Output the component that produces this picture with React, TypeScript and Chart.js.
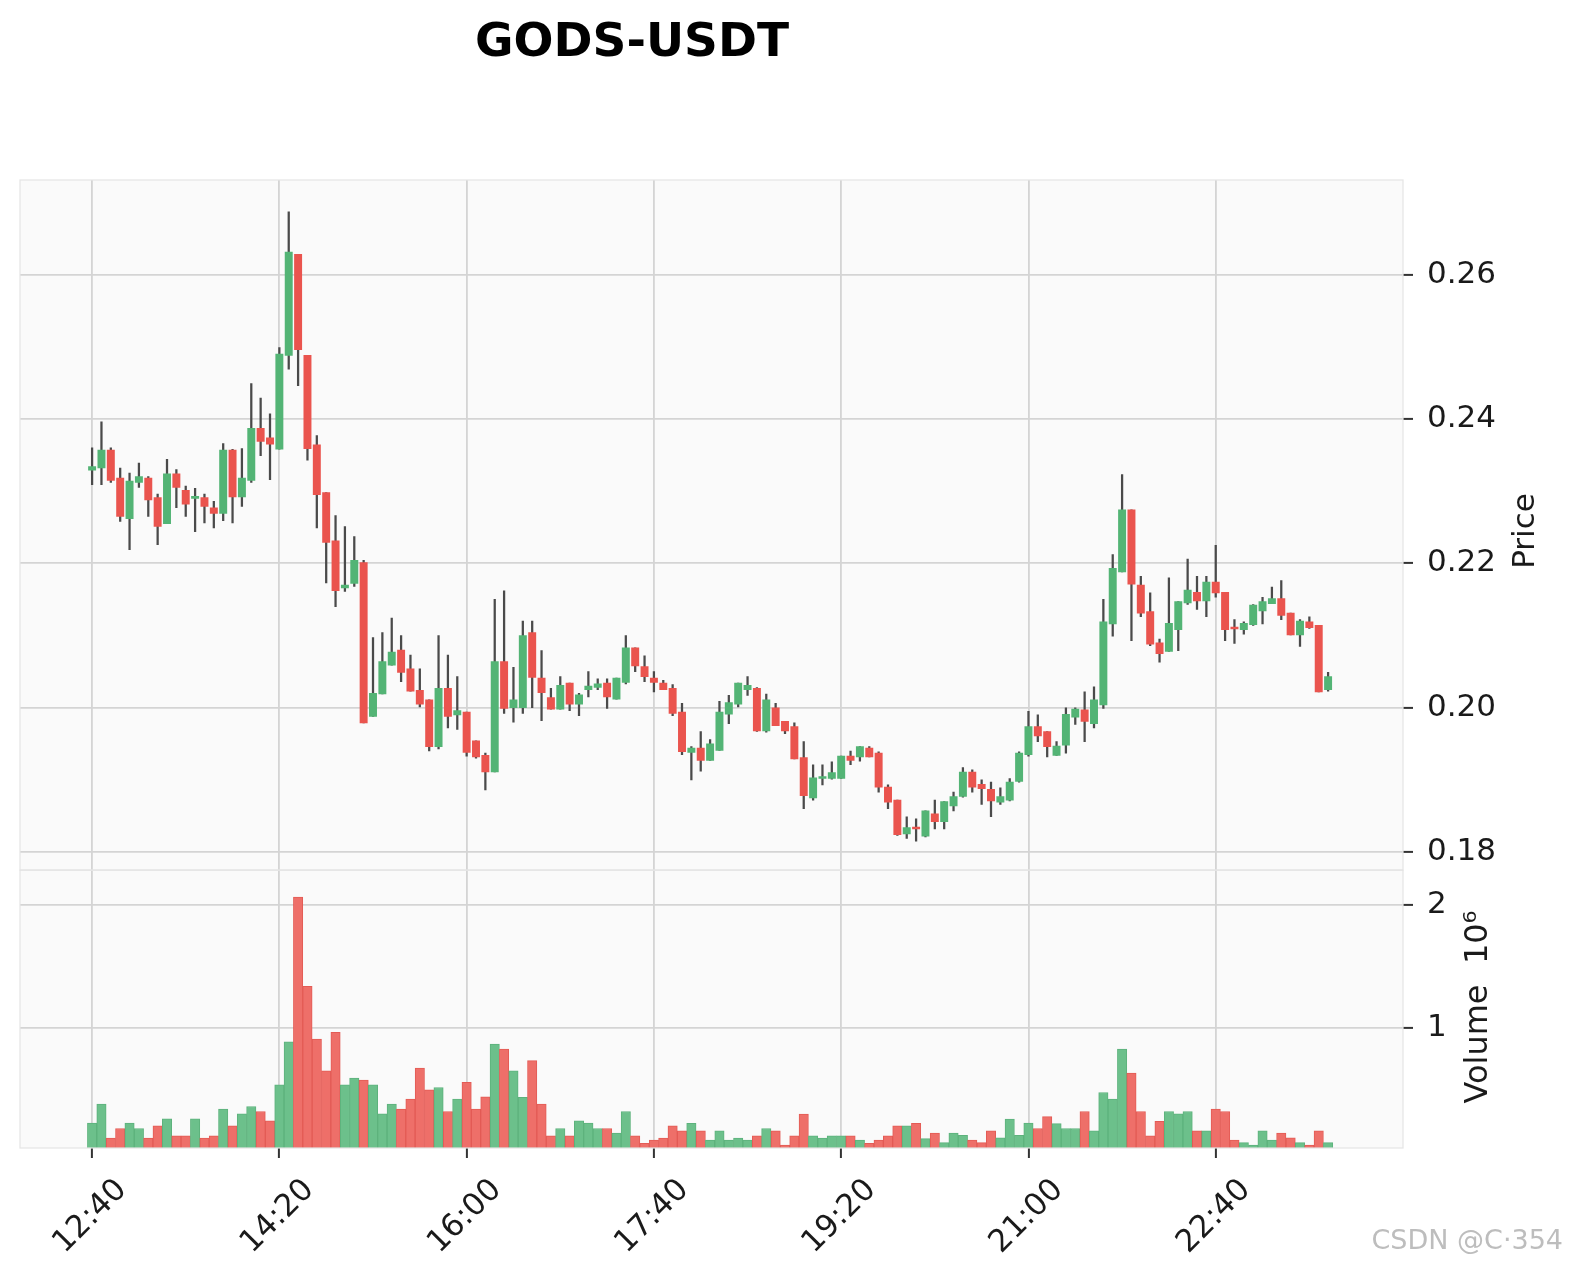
import React, { useEffect, useRef } from "react";
import { Chart, registerables } from "chart.js";

Chart.register(...registerables);

const TITLE = "GODS-USDT";
const PRICE_LABEL = "Price";
const VOLUME_LABEL = "Volume  10\u2076";
const WATERMARK = "CSDN @C\u00b7354";

const opens = [
  0.2329, 0.2332, 0.2357, 0.2318, 0.2262, 0.2312, 0.2318, 0.2291, 0.2255, 0.2324,
  0.2301, 0.2290, 0.2291, 0.2277, 0.2269, 0.2357, 0.2292, 0.2315, 0.2387, 0.2374,
  0.2358, 0.2488, 0.2628, 0.2488, 0.2364, 0.2298, 0.2231, 0.2166, 0.2172, 0.2201,
  0.1988, 0.2019, 0.2059, 0.2080, 0.2054, 0.2024, 0.2011, 0.1946, 0.2027, 0.1990,
  0.1994, 0.1954, 0.1934, 0.1911, 0.2064, 0.2000, 0.2000, 0.2104, 0.2041, 0.2014,
  0.1998, 0.2034, 0.2005, 0.2025, 0.2028, 0.2034, 0.2012, 0.2035, 0.2083, 0.2057,
  0.2041, 0.2034, 0.2027, 0.1994, 0.1938, 0.1944, 0.1927, 0.1941, 0.1991, 0.2005,
  0.2025, 0.2027, 0.1968, 0.2000, 0.1981, 0.1974, 0.1931, 0.1875, 0.1902, 0.1902,
  0.1902, 0.1933, 0.1932, 0.1944, 0.1937, 0.1890, 0.1872, 0.1825, 0.1834, 0.1822,
  0.1853, 0.1842, 0.1864, 0.1877, 0.1911, 0.1894, 0.1887, 0.1869, 0.1872, 0.1898,
  0.1935, 0.1974, 0.1967, 0.1934, 0.1948, 0.1987, 0.1997, 0.1978, 0.2004, 0.2116,
  0.2188, 0.2274, 0.2170, 0.2133, 0.2090, 0.2078, 0.2108, 0.2145, 0.2160, 0.2148,
  0.2174, 0.2160, 0.2110, 0.2108, 0.2115, 0.2134, 0.2144, 0.2151, 0.2131, 0.2101,
  0.2119, 0.2114, 0.2025,
];
const highs = [
  0.2360, 0.2396, 0.2360, 0.2332, 0.2325, 0.2339, 0.2320, 0.2296, 0.2344, 0.2330,
  0.2307, 0.2304, 0.2296, 0.2286, 0.2366, 0.2358, 0.2359, 0.2449, 0.2429, 0.2407,
  0.2499, 0.2687, 0.2628, 0.2488, 0.2377, 0.2298, 0.2266, 0.2251, 0.2237, 0.2204,
  0.2097, 0.2104, 0.2124, 0.2100, 0.2073, 0.2054, 0.2011, 0.2100, 0.2073, 0.2043,
  0.1994, 0.1954, 0.1937, 0.2150, 0.2162, 0.2056, 0.2120, 0.2120, 0.2079, 0.2027,
  0.2043, 0.2034, 0.2020, 0.2050, 0.2040, 0.2040, 0.2041, 0.2100, 0.2083, 0.2072,
  0.2050, 0.2038, 0.2032, 0.2006, 0.1946, 0.1967, 0.1956, 0.2009, 0.2017, 0.2034,
  0.2043, 0.2028, 0.2019, 0.2006, 0.1981, 0.1979, 0.1953, 0.1921, 0.1921, 0.1925,
  0.1933, 0.1940, 0.1946, 0.1946, 0.1939, 0.1893, 0.1872, 0.1849, 0.1846, 0.1857,
  0.1872, 0.1870, 0.1883, 0.1917, 0.1914, 0.1900, 0.1897, 0.1889, 0.1902, 0.1939,
  0.1995, 0.1990, 0.1967, 0.1953, 0.2000, 0.2000, 0.2022, 0.2029, 0.2150, 0.2212,
  0.2323, 0.2274, 0.2182, 0.2159, 0.2095, 0.2180, 0.2147, 0.2206, 0.2182, 0.2182,
  0.2225, 0.2160, 0.2122, 0.2119, 0.2143, 0.2153, 0.2167, 0.2176, 0.2131, 0.2122,
  0.2126, 0.2114, 0.2049,
];
const lows = [
  0.2309, 0.2309, 0.2312, 0.2258, 0.2219, 0.2305, 0.2265, 0.2226, 0.2255, 0.2277,
  0.2265, 0.2244, 0.2256, 0.2249, 0.2259, 0.2256, 0.2279, 0.2312, 0.2349, 0.2316,
  0.2358, 0.2469, 0.2446, 0.2343, 0.2249, 0.2173, 0.2140, 0.2161, 0.2168, 0.1979,
  0.1988, 0.2019, 0.2059, 0.2036, 0.2023, 0.2001, 0.1940, 0.1943, 0.1972, 0.1970,
  0.1933, 0.1930, 0.1886, 0.1911, 0.1992, 0.1980, 0.1992, 0.2000, 0.1982, 0.1998,
  0.1998, 0.1996, 0.1989, 0.2015, 0.2025, 0.1999, 0.2012, 0.2033, 0.2050, 0.2036,
  0.2022, 0.2025, 0.1989, 0.1935, 0.1900, 0.1912, 0.1927, 0.1941, 0.1978, 0.2001,
  0.2017, 0.1967, 0.1966, 0.1975, 0.1964, 0.1929, 0.1860, 0.1872, 0.1893, 0.1901,
  0.1902, 0.1921, 0.1926, 0.1932, 0.1883, 0.1860, 0.1823, 0.1819, 0.1815, 0.1821,
  0.1832, 0.1832, 0.1857, 0.1876, 0.1883, 0.1866, 0.1849, 0.1866, 0.1871, 0.1897,
  0.1933, 0.1953, 0.1932, 0.1934, 0.1937, 0.1977, 0.1953, 0.1972, 0.1999, 0.2099,
  0.2188, 0.2093, 0.2126, 0.2086, 0.2063, 0.2078, 0.2079, 0.2143, 0.2136, 0.2126,
  0.2153, 0.2093, 0.2089, 0.2102, 0.2114, 0.2116, 0.2144, 0.2122, 0.2101, 0.2085,
  0.2110, 0.2022, 0.2023,
];
const closes = [
  0.2334, 0.2357, 0.2315, 0.2265, 0.2314, 0.2320, 0.2288, 0.2251, 0.2324, 0.2305,
  0.2282, 0.2291, 0.2279, 0.2269, 0.2357, 0.2292, 0.2318, 0.2387, 0.2369, 0.2365,
  0.2490, 0.2631, 0.2496, 0.2359, 0.2295, 0.2229, 0.2162, 0.2170, 0.2204, 0.1979,
  0.2020, 0.2064, 0.2077, 0.2049, 0.2023, 0.2005, 0.1946, 0.2027, 0.1988, 0.1996,
  0.1938, 0.1932, 0.1911, 0.2064, 0.1999, 0.2011, 0.2100, 0.2042, 0.2021, 0.1998,
  0.2031, 0.2005, 0.2018, 0.2030, 0.2033, 0.2015, 0.2041, 0.2083, 0.2058, 0.2043,
  0.2035, 0.2025, 0.1992, 0.1939, 0.1944, 0.1927, 0.1950, 0.1994, 0.2007, 0.2034,
  0.2031, 0.1968, 0.2011, 0.1975, 0.1968, 0.1929, 0.1878, 0.1903, 0.1904, 0.1910,
  0.1933, 0.1927, 0.1946, 0.1932, 0.1890, 0.1869, 0.1824, 0.1834, 0.1832, 0.1857,
  0.1842, 0.1870, 0.1877, 0.1911, 0.1890, 0.1888, 0.1871, 0.1877, 0.1897, 0.1937,
  0.1974, 0.1961, 0.1946, 0.1947, 0.1991, 0.1998, 0.1981, 0.2011, 0.2119, 0.2193,
  0.2274, 0.2171, 0.2131, 0.2088, 0.2075, 0.2117, 0.2147, 0.2163, 0.2148, 0.2174,
  0.2159, 0.2108, 0.2109, 0.2117, 0.2142, 0.2147, 0.2151, 0.2128, 0.2101, 0.2120,
  0.2111, 0.2022, 0.2043,
];
const volumes = [
  222000, 377000, 100000, 179000, 222000, 179000, 100000, 200000, 258000, 119000,
  119000, 258000, 100000, 119000, 336000, 200000, 298000, 358000, 317000, 241000,
  535000, 885000, 2063000, 1337000, 907000, 649000, 962000, 535000, 589000, 573000,
  535000, 298000, 377000, 336000, 418000, 671000, 494000, 513000, 317000, 418000,
  554000, 336000, 437000, 867000, 826000, 649000, 432000, 731000, 377000, 119000,
  179000, 119000, 241000, 222000, 179000, 179000, 141000, 317000, 119000, 59000,
  84000, 100000, 200000, 160000, 220000, 160000, 84000, 160000, 84000, 100000,
  84000, 119000, 179000, 160000, 43000, 119000, 296000, 119000, 100000, 119000,
  119000, 119000, 84000, 59000, 84000, 119000, 200000, 200000, 220000, 97000,
  141000, 64000, 141000, 124000, 84000, 64000, 160000, 102000, 255000, 124000,
  222000, 179000, 276000, 219000, 179000, 179000, 317000, 160000, 472000, 418000,
  826000, 630000, 317000, 119000, 238000, 317000, 298000, 317000, 160000, 160000,
  336000, 317000, 84000, 64000, 43000, 160000, 84000, 141000, 102000, 64000,
  43000, 160000, 64000,
];

const timeTickIndex = [0, 20, 40, 60, 80, 100, 120];
const timeTickLabels = ["12:40", "14:20", "16:00", "17:40", "19:20", "21:00", "22:40"];
const priceTicks = [0.18, 0.2, 0.22, 0.24, 0.26];
const volumeTicks = [1000000, 2000000];

const UP_BODY = "#53b475";
const DOWN_BODY = "#ea544e";
const UP_VOL = "#6cc08b";
const DOWN_VOL = "#ee6f69";
const UP_VOL_EDGE = "#5db27c";
const DOWN_VOL_EDGE = "#e35b55";
const WICK = "#4a4a4a";
const GRID = "#d4d4d4";
const FONT = '"DejaVu Sans", sans-serif';

export default function App() {
  const ref = useRef<HTMLCanvasElement>(null);

  useEffect(() => {
    const canvas = ref.current;
    if (!canvas) return;
    const idx = opens.map((_, i) => i);
    const isUp = idx.map((i) => closes[i] >= opens[i]);

    const decor = {
      id: "decor",
      beforeDraw(chart: any) {
        const { ctx, chartArea } = chart;
        ctx.save();
        ctx.fillStyle = "#fafafa";
        ctx.fillRect(chartArea.left, chartArea.top, chartArea.right - chartArea.left, chartArea.bottom - chartArea.top);
        ctx.restore();
      },
      afterDraw(chart: any) {
        const { ctx, chartArea } = chart;
        const py = chart.scales.y;
        const vy = chart.scales.yv;
        ctx.save();
        ctx.strokeStyle = "#e4e4e4";
        ctx.lineWidth = 1.2;
        ctx.strokeRect(chartArea.left, py.top, chartArea.right - chartArea.left, py.bottom - py.top);
        ctx.strokeRect(chartArea.left, vy.top, chartArea.right - chartArea.left, vy.bottom - vy.top);

        ctx.fillStyle = "#000";
        ctx.font = `bold 47px ${FONT}`;
        ctx.textAlign = "center";
        ctx.textBaseline = "alphabetic";
        ctx.fillText(TITLE, 632, 56);

        ctx.fillStyle = "#1a1a1a";
        ctx.textBaseline = "middle";
        ctx.save();
        ctx.font = `31px ${FONT}`;
        ctx.translate(1526, 531);
        ctx.rotate(-Math.PI / 2);
        ctx.fillText(PRICE_LABEL, 0, 0);
        ctx.restore();
        ctx.save();
        ctx.font = `32px ${FONT}`;
        ctx.translate(1479, 1007);
        ctx.rotate(-Math.PI / 2);
        ctx.fillText(VOLUME_LABEL, 0, 0);
        ctx.restore();

        ctx.fillStyle = "#bdbdbd";
        ctx.font = `27px ${FONT}`;
        ctx.textAlign = "right";
        ctx.textBaseline = "alphabetic";
        ctx.fillText(WATERMARK, 1563, 1249);
        ctx.restore();
      },
    };

    const chart = new Chart(canvas, {
      type: "bar",
      data: {
        datasets: [
          {
            label: "body",
            data: idx.map((i) => ({ x: i, y: [opens[i], closes[i]] })) as any,
            backgroundColor: idx.map((i) => (isUp[i] ? UP_BODY : DOWN_BODY)),
            borderWidth: 0,
            barThickness: 7.3,
            minBarLength: 2,
            grouped: false,
            yAxisID: "y",
            order: 0,
          } as any,
          {
            label: "wick",
            data: idx.map((i) => ({ x: i, y: [lows[i], highs[i]] })) as any,
            backgroundColor: WICK,
            borderWidth: 0,
            barThickness: 1.6,
            grouped: false,
            yAxisID: "y",
            order: 1,
          } as any,
          {
            label: "volume",
            data: idx.map((i) => ({ x: i, y: volumes[i] })) as any,
            backgroundColor: idx.map((i) => (isUp[i] ? UP_VOL : DOWN_VOL)),
            borderColor: idx.map((i) => (isUp[i] ? UP_VOL_EDGE : DOWN_VOL_EDGE)),
            borderWidth: 1,
            barThickness: 9.37,
            grouped: false,
            yAxisID: "yv",
            order: 2,
          } as any,
        ],
      },
      options: {
        responsive: false,
        animation: false,
        events: [],
        layout: { padding: { left: 20, top: 180, right: 0, bottom: 0 } },
        plugins: { legend: { display: false }, tooltip: { enabled: false }, title: { display: false } },
        scales: {
          x: {
            type: "linear",
            min: -7.7,
            max: 140,
            offset: false,
            grid: { offset: false, color: GRID, lineWidth: 1.8, drawTicks: true, tickLength: 10, tickWidth: 2, tickColor: "#333" },
            border: { display: false },
            afterBuildTicks: (s: any) => {
              s.ticks = timeTickIndex.map((v) => ({ value: v }));
            },
            afterFit: (s: any) => {
              s.height = 120;
            },
            ticks: {
              autoSkip: false,
              minRotation: 45,
              maxRotation: 45,
              labelOffset: 30,
              padding: 14,
              color: "#1a1a1a",
              font: { family: FONT, size: 31 },
              callback: (v: any) => {
                const k = timeTickIndex.indexOf(Number(v));
                return k >= 0 ? timeTickLabels[k] : "";
              },
            },
          },
          y: {
            type: "linear",
            position: "right",
            stack: "panels",
            stackWeight: 688,
            min: 0.1775,
            max: 0.2731,
            grid: { color: GRID, lineWidth: 1.8, drawTicks: true, tickLength: 10, tickWidth: 2, tickColor: "#333" },
            border: { display: false },
            afterBuildTicks: (s: any) => {
              s.ticks = priceTicks.map((v) => ({ value: v }));
            },
            afterFit: (s: any) => {
              s.width = 167;
            },
            ticks: {
              padding: 14,
              color: "#1a1a1a",
              font: { family: FONT, size: 31 },
              callback: (v: any) => Number(v).toFixed(2),
            },
          },
          yv: {
            type: "linear",
            position: "right",
            stack: "panels",
            stackWeight: 277,
            min: 20000,
            max: 2283000,
            grid: { color: GRID, lineWidth: 1.8, drawTicks: true, tickLength: 10, tickWidth: 2, tickColor: "#333" },
            border: { display: false },
            afterBuildTicks: (s: any) => {
              s.ticks = volumeTicks.map((v) => ({ value: v }));
            },
            afterFit: (s: any) => {
              s.width = 167;
            },
            ticks: {
              padding: 14,
              color: "#1a1a1a",
              font: { family: FONT, size: 31 },
              callback: (v: any) => String(Math.round(Number(v) / 1000000)),
            },
          },
        },
      } as any,
      plugins: [decor],
    });

    return () => chart.destroy();
  }, []);

  return (
    <div style={{ position: "fixed", left: 0, top: 0, width: 1570, height: 1268, background: "#fff" }}>
      <canvas ref={ref} width={1570} height={1268} style={{ display: "block", width: 1570, height: 1268 }} />
    </div>
  );
}
